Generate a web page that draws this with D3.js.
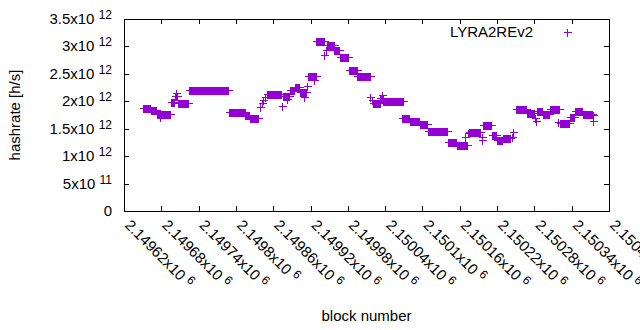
<!DOCTYPE html>
<html>
<head>
<meta charset="utf-8">
<script src="https://cdn.jsdelivr.net/npm/d3@7"></script>
<style>
  body { margin: 0; background: #fff; }
  text { font-family: "Liberation Sans", Arial, sans-serif; font-size: 15px; fill: #000; }
</style>
</head>
<body>
<div id="chart"></div>
<script>
// x tick values (block numbers) and their labels
const xTicks = [2149620, 2149680, 2149740, 2149800, 2149860, 2149920, 2149980,
                2150040, 2150100, 2150160, 2150220, 2150280, 2150340, 2150400];
const xTickLabels = ["2.14962", "2.14968", "2.14974", "2.1498", "2.14986", "2.14992", "2.14998",
                     "2.15004", "2.1501", "2.15016", "2.15022", "2.15028", "2.15034", "2.1504"];
const xTickExp = "6";

// y ticks (h/s) and labels
const yTicks = [0, 0.5e12, 1e12, 1.5e12, 2e12, 2.5e12, 3e12, 3.5e12];
const yTickLabels = ["0", "5", "1", "1.5", "2", "2.5", "3", "3.5"];
const yTickExp = ["", "11", "12", "12", "12", "12", "12", "12"];

// hashrate runs: first block, last block, hashrate (x10^12 h/s)
const runFirst = [2149651, 2149663, 2149673, 2149678, 2149695, 2149702, 2149704, 2149707, 2149725, 2149789,
                  2149815, 2149823, 2149839, 2149842, 2149844, 2149847, 2149850, 2149874, 2149876, 2149882,
                  2149887, 2149895, 2149903, 2149909, 2149914, 2149916, 2149926, 2149929, 2149942, 2149945,
                  2149946, 2149958, 2149967, 2149982, 2149995, 2150016, 2150019, 2150020, 2150032, 2150035,
                  2150037, 2150067, 2150080, 2150096, 2150109, 2150141, 2150155, 2150168, 2150173, 2150175,
                  2150196, 2150196, 2150197, 2150212, 2150220, 2150229, 2150244, 2150246, 2150250, 2150268,
                  2150281, 2150282, 2150284, 2150294, 2150305, 2150318, 2150321, 2150337, 2150345, 2150358,
                  2150374, 2150375];
const runLast  = [2149662, 2149671, 2149694, 2149678, 2149700, 2149705, 2149704, 2149723, 2149787, 2149814,
                  2149821, 2149835, 2149839, 2149842, 2149844, 2149847, 2149873, 2149874, 2149886, 2149882,
                  2149894, 2149902, 2149913, 2149909, 2149914, 2149928, 2149926, 2149941, 2149942, 2149945,
                  2149957, 2149966, 2149981, 2149994, 2150016, 2150016, 2150019, 2150031, 2150036, 2150035,
                  2150068, 2150079, 2150095, 2150108, 2150140, 2150154, 2150172, 2150168, 2150173, 2150193,
                  2150196, 2150196, 2150211, 2150219, 2150228, 2150241, 2150244, 2150246, 2150267, 2150280,
                  2150281, 2150282, 2150293, 2150304, 2150320, 2150318, 2150336, 2150344, 2150357, 2150373,
                  2150374, 2150375];
const runRate  = [1.877, 1.841, 1.768, 1.713, 1.978, 2.096, 2.15, 1.96, 2.206, 1.805,
                  1.75, 1.704, 1.896, 1.969, 2.023, 2.078, 2.124, 1.914, 2.096, 2.042,
                  2.197, 2.26, 2.178, 2.078, 2.279, 2.47, 2.388, 3.108, 2.844, 2.935,
                  3.026, 2.944, 2.816, 2.579, 2.47, 2.078, 2.023, 1.969, 2.06, 2.114,
                  2.005, 1.695, 1.641, 1.577, 1.467, 1.258, 1.203, 1.349, 1.422, 1.44,
                  1.349, 1.294, 1.568, 1.385, 1.294, 1.331, 1.349, 1.44, 1.868, 1.795,
                  1.695, 1.64, 1.823, 1.768, 1.868, 1.622, 1.613, 1.713, 1.823, 1.777,
                  1.75, 1.64];

const color = "#9400d3";

// one point per block within each run
const points = [];
runFirst.forEach((first, i) => {
    d3.range(first, runLast[i] + 1).forEach(b => points.push({ block: b, rate: runRate[i] * 1e12 }));
});

const W = 640, H = 330;
const plot = { left: 124, right: 609, top: 19, bottom: 211 };

const svg = d3.select("#chart").append("svg")
    .attr("width", W)
    .attr("height", H);

const x = d3.scaleLinear().domain([2149620, 2150400]).range([plot.left, plot.right]);
const y = d3.scaleLinear().domain([0, 3.5e12]).range([plot.bottom, plot.top]);

const tickLen = 5;

// tick marks on all four sides, pointing inward
const ticks = svg.append("g")
    .attr("stroke", "#000")
    .attr("stroke-width", 1)
    .attr("shape-rendering", "crispEdges");

yTicks.forEach(v => {
    const yy = Math.round(y(v)) + 0.5;
    ticks.append("line").attr("x1", plot.left).attr("x2", plot.left + tickLen).attr("y1", yy).attr("y2", yy);
    ticks.append("line").attr("x1", plot.right).attr("x2", plot.right - tickLen).attr("y1", yy).attr("y2", yy);
});
xTicks.forEach(v => {
    const xx = Math.round(x(v)) + 0.5;
    ticks.append("line").attr("x1", xx).attr("x2", xx).attr("y1", plot.bottom).attr("y2", plot.bottom - tickLen);
    ticks.append("line").attr("x1", xx).attr("x2", xx).attr("y1", plot.top).attr("y2", plot.top + tickLen);
});

// y tick labels with superscript exponent
yTicks.forEach((v, i) => {
    const t = svg.append("text")
        .attr("x", 112)
        .attr("y", y(v) + 5)
        .attr("text-anchor", "end");
    if (yTickExp[i]) {
        t.append("tspan").text(yTickLabels[i] + "x10 ");
        t.append("tspan").attr("dy", -5).attr("font-size", "12px").text(yTickExp[i]);
    } else {
        t.text(yTickLabels[i]);
    }
});

// x tick labels, rotated
xTicks.forEach((v, i) => {
    const xx = x(v);
    const t = svg.append("text")
        .attr("transform", `translate(${xx},${plot.bottom + 15}) rotate(45)`)
        .attr("text-anchor", "start");
    t.append("tspan").text(xTickLabels[i] + "x10 ");
    t.append("tspan").attr("dy", -5).attr("font-size", "12px").text(xTickExp);
});

// border
svg.append("rect")
    .attr("x", plot.left + 0.5)
    .attr("y", plot.top + 0.5)
    .attr("width", plot.right - plot.left)
    .attr("height", plot.bottom - plot.top)
    .attr("fill", "none")
    .attr("stroke", "#000")
    .attr("shape-rendering", "crispEdges");

// axis titles
svg.append("text")
    .attr("x", (plot.left + plot.right) / 2)
    .attr("y", 321)
    .attr("text-anchor", "middle")
    .text("block number");

svg.append("text")
    .attr("transform", `translate(20,${(plot.top + plot.bottom) / 2}) rotate(-90)`)
    .attr("text-anchor", "middle")
    .text("hashrate [h/s]");

// plus markers
const cross = (cx, cy) => `M${cx - 4},${cy}h8M${cx},${cy - 4}v8`;

svg.append("g")
    .attr("stroke", color)
    .attr("stroke-width", 1)
    .attr("fill", "none")
    .attr("shape-rendering", "crispEdges")
    .selectAll("path")
    .data(points)
    .enter().append("path")
    .attr("d", d => cross(Math.round(x(d.block)) + 0.5, Math.round(y(d.rate)) + 0.5));

// legend
svg.append("text")
    .attr("x", 533)
    .attr("y", 37)
    .attr("text-anchor", "end")
    .text("LYRA2REv2");

svg.append("path")
    .attr("d", cross(567.5, 32.5))
    .attr("stroke", color)
    .attr("fill", "none")
    .attr("shape-rendering", "crispEdges");
</script>
</body>
</html>
